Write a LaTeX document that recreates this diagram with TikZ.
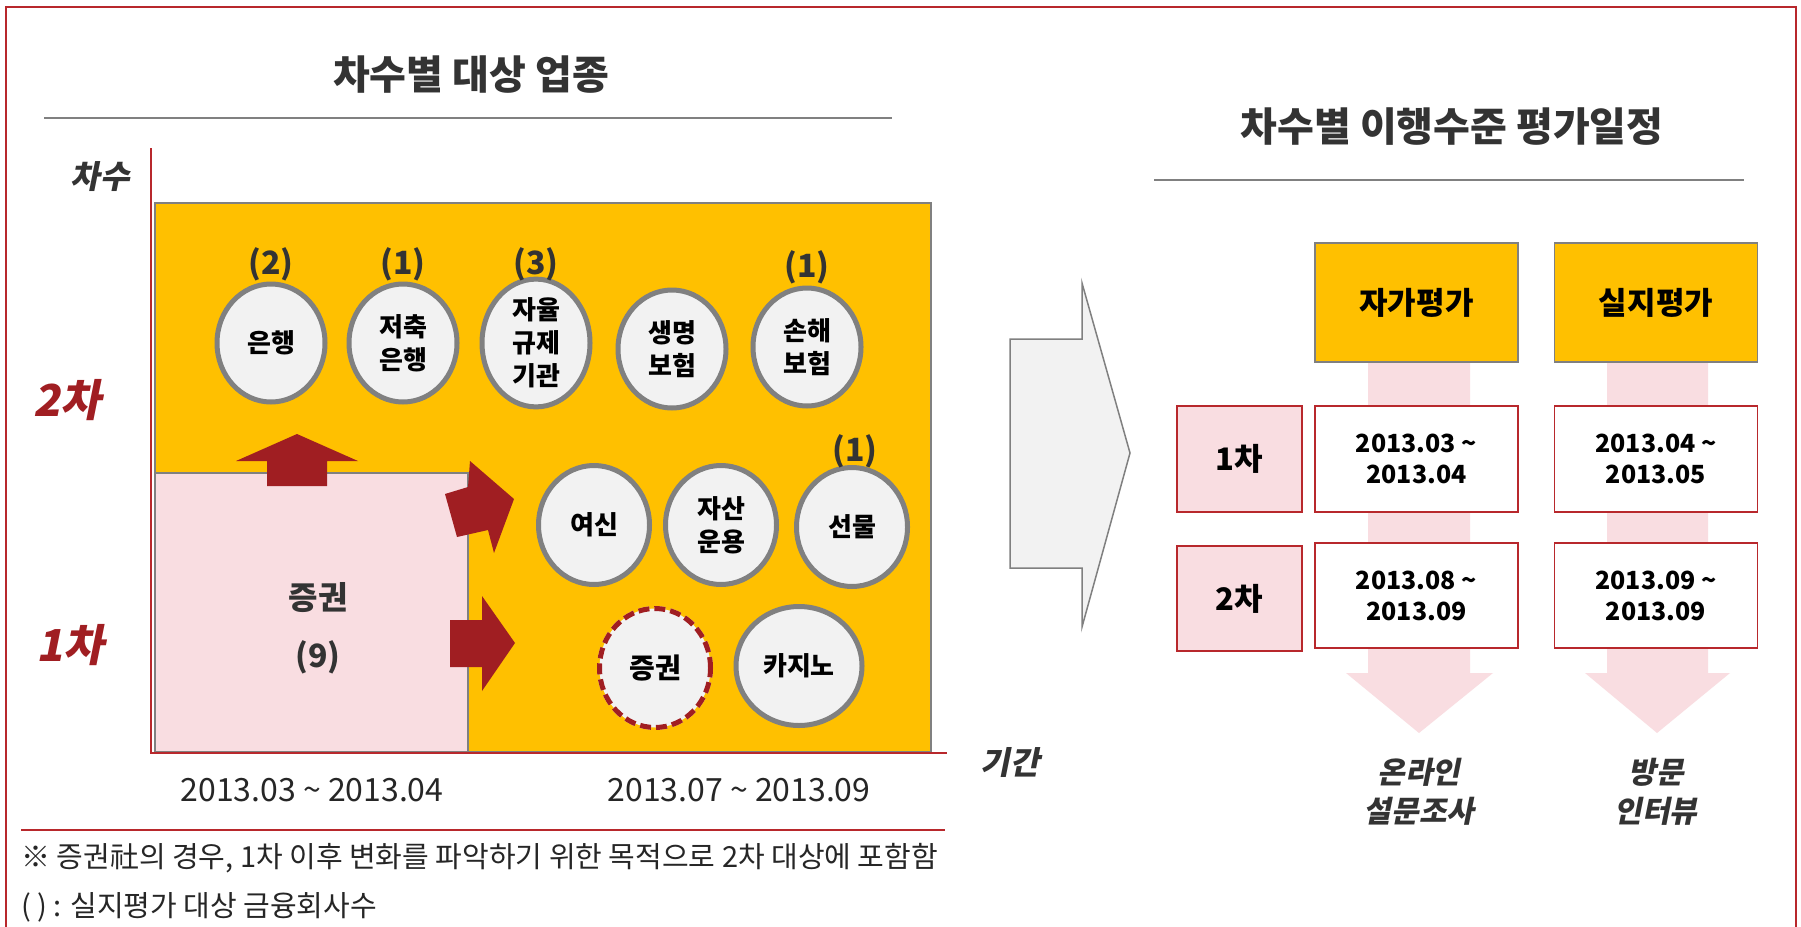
\documentclass[tikz,border=0pt]{standalone}
\usepackage{fontspec}
\setmainfont{Noto Sans CJK KR}
\newfontfamily\slfont{Noto Sans CJK KR}[FakeSlant=0.2]
\usetikzlibrary{shapes.geometric}
\definecolor{yel}{HTML}{FFC000}
\definecolor{pnk}{HTML}{F9DDE1}
\definecolor{dred}{HTML}{A01E22}
\definecolor{frame}{HTML}{B8282C}
\definecolor{cgray}{HTML}{808080}
\definecolor{cfill}{HTML}{F2F2F2}
\definecolor{txt}{HTML}{333333}
\definecolor{pale}{HTML}{FFF3C4}
\newcommand\fs[2]{\fontsize{#1}{#2}\selectfont}
\begin{document}
\begin{tikzpicture}[x=1pt,y=-1pt,
  circ/.style={ellipse, draw=cgray, line width=5pt, fill=cfill, inner sep=0pt, align=center, text=black, font=\fs{26}{33}\bfseries},
  topc/.style={circ, minimum width=108pt, minimum height=118pt},
  midc/.style={circ, minimum width=111pt, minimum height=119pt},
  cnt/.style={font=\fs{32}{38}\bfseries, text=txt, inner sep=0pt},
  ttl/.style={font=\fs{40}{48}\bfseries, text=txt, inner sep=0pt},
  rule/.style={draw=cgray, line width=2pt},
  redline/.style={draw=frame, line width=1.5pt},
  axislab/.style={font=\slfont\fs{32}{38}\bfseries, text=txt, inner sep=0pt},
  chalab/.style={font=\slfont\fs{44}{50}\bfseries, text=dred, inner sep=0pt},
  datelab/.style={font=\fs{32}{38}, text=black!85, inner sep=0pt},
  note/.style={font=\fs{29}{34}, text=black!85, inner sep=0pt, anchor=west},
  ybox/.style={draw=cgray, line width=1.5pt, fill=yel, minimum width=203pt, minimum height=119pt, font=\fs{31}{36}\bfseries, text=black},
  pbox/.style={draw=frame, line width=1.5pt, fill=pnk, minimum width=125pt, font=\fs{31}{36}\bfseries, text=black},
  dbox/.style={draw=frame, line width=1.5pt, fill=white, minimum width=203pt, align=center, font=\fs{25}{31}\bfseries, text=black},
  method/.style={font=\slfont\fs{30}{39}\bfseries, text=txt, align=center, inner sep=0pt},
]
\useasboundingbox (0,0) rectangle (1801,926);
\fill[white] (0,0) rectangle (1801,926);
% outer frame
\draw[redline] (6,7) rectangle (1796,960);

% ===== left panel =====
\node[ttl] (t1) at (471,75) {차수별 대상 업종};
\draw[rule] (44,118) -- (892,118);

\fill[yel] (155,203) rectangle (931,752);
\draw[cgray, line width=1.5pt] (155,203) rectangle (931,752);
\draw[cgray, line width=1.5pt, fill=pnk] (155,473) rectangle (468,752);

% axes
\coordinate (yaxtop) at (151,148);
\coordinate (origin) at (151,753);
\coordinate (xaxend) at (947,753);
\draw[redline] (yaxtop) -- (origin) -- (xaxend);
\node[axislab] (ylab) at (100,177) {차수};
\node[axislab] (xlab) at (1010,762) {기간};
\node[chalab] (c2) at (67,400) {2차};
\node[chalab] (c1) at (70,645) {1차};

% dark red block arrows
\fill[dred] (267,486) -- (267,461) -- (236,461) -- (297,434) -- (358,461) -- (327,461) -- (327,486) -- cycle;
\fill[dred] (445,494) -- (468,487) -- (470,461) -- (514,499) -- (494,553) -- (488,530) -- (457,537) -- cycle;
\fill[dred] (450,620) -- (482,620) -- (482,596) -- (515,643) -- (482,691) -- (482,667) -- (450,667) -- cycle;

\node[cnt] (sec) at (318,598) {증권};
\node[cnt] (secn) at (318,657) {(9)};

% top row
\node[topc] (bank) at (271,343) {은행};
\node[topc] (sav) at (403,343) {저축\\은행};
\node[topc] (self) at (536,343) {자율\\규제\\기관};
\node[topc] (life) at (672,349) {생명\\보험};
\node[topc] (nonlife) at (807,347) {손해\\보험};
\node[cnt] at (271,264) {(2)};
\node[cnt] at (403,264) {(1)};
\node[cnt] at (536,264) {(3)};
\node[cnt] at (807,267) {(1)};

% middle row
\node[midc] (credit) at (594,525) {여신};
\node[midc] (asset) at (721,525) {자산\\운용};
\node[midc] (fut) at (852,527) {선물};
\node[cnt] at (855,451) {(1)};

% bottom row
\node[circ, minimum width=111pt, minimum height=119pt, draw=dred, dash pattern=on 11pt off 5pt, font=\fs{28}{34}\bfseries,
  preaction={draw=pale, line width=5pt}] (sec2) at (655,668) {증권};
\node[circ, minimum width=126pt, minimum height=119pt] (casino) at (799,666) {카지노};

% period labels
\node[datelab] (p1) at (312,790) {2013.03 \textasciitilde\ 2013.04};
\node[datelab] (p2) at (739,790) {2013.07 \textasciitilde\ 2013.09};

\draw[redline] (21,830) -- (945,830);
\node[note] (n1) at (21,858) {※ 증권社의 경우, 1차 이후 변화를 파악하기 위한 목적으로 2차 대상에 포함함};
\node[note] (n2) at (21,907) {( ) : 실지평가 대상 금융회사수};

% ===== big gray arrow =====
\draw[cgray, fill=cfill, line width=1.5pt] (1010,339) -- (1082,339) -- (1082,283) -- (1130,453) -- (1082,627) -- (1082,568) -- (1010,568) -- cycle;

% ===== right panel =====
\node[ttl] (t2) at (1452,127) {차수별 이행수준 평가일정};
\draw[rule] (1154,180) -- (1744,180);

% pink down arrows
\fill[pnk] (1368,362) -- (1470,362) -- (1470,673) -- (1493,673) -- (1419,733) -- (1346,673) -- (1368,673) -- cycle;
\fill[pnk] (1607,362) -- (1708,362) -- (1708,673) -- (1730,673) -- (1657,733) -- (1585,673) -- (1607,673) -- cycle;

\node[ybox] (sa) at (1416.5,302.5) {자가평가};
\node[ybox] (fa) at (1656,302.5) {실지평가};

\node[pbox, minimum height=106pt] (r1) at (1239.5,459) {1차};
\node[pbox, minimum height=105pt] (r2) at (1239.5,598.5) {2차};

\node[dbox, minimum height=106pt] (d11) at (1416.5,459) {2013.03 \textasciitilde\\2013.04};
\node[dbox, minimum height=106pt] (d12) at (1656,459) {2013.04 \textasciitilde\\2013.05};
\node[dbox, minimum height=105pt] (d21) at (1416.5,595.5) {2013.08 \textasciitilde\\2013.09};
\node[dbox, minimum height=105pt] (d22) at (1656,595.5) {2013.09 \textasciitilde\\2013.09};

\node[method] (m1) at (1419,792) {온라인\\설문조사};
\node[method] (m2) at (1656,792) {방문\\인터뷰};
\end{tikzpicture}
\end{document}
